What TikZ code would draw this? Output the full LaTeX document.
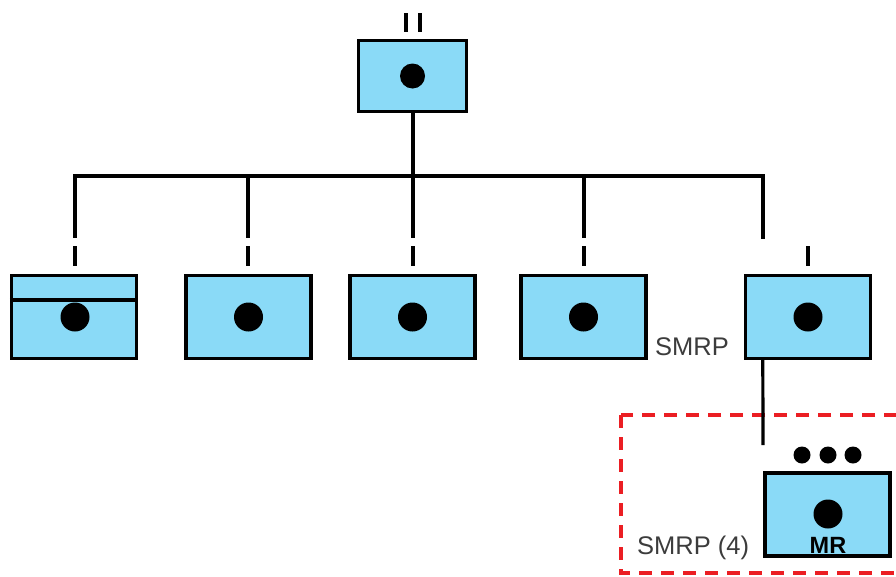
\documentclass[tikz,border=0pt]{standalone}
\usepackage{fontspec}
\setmainfont{Liberation Sans}
\usetikzlibrary{calc}
\definecolor{boxblue}{RGB}{138,218,247}
\definecolor{labelgray}{RGB}{60,60,60}
\definecolor{dashred}{RGB}{235,30,35}
\begin{document}
\begin{tikzpicture}[x=1pt,y=-1pt,
  wire/.style={line width=3.2pt,black},
  unitbox/.style={draw=black,line width=3.4pt,fill=boxblue,rectangle,
    minimum width=125pt,minimum height=83pt,inner sep=0pt},
  topbox/.style={unitbox,minimum width=108pt,minimum height=71pt},
  bigdot/.style={circle,fill=black,inner sep=0pt,minimum size=29pt},
  topdot/.style={circle,fill=black,inner sep=0pt,minimum size=25pt},
  smalldot/.style={circle,fill=black,inner sep=0pt,minimum size=17pt},
  smrplabel/.style={text=labelgray,font=\fontsize{25.5}{27}\selectfont,inner sep=0pt},
  regionbox/.style={draw=dashred,line width=3.2pt,dash pattern=on 13pt off 9pt}]
\useasboundingbox (0,0) rectangle (896,576);
\clip (0,0) rectangle (896,576);
\fill[white] (0,0) rectangle (896,576);

% top node
\node[topbox] (top) at (412.5,76) {};
\node[topdot] (topd) at (412.5,76) {};
\coordinate (tm1a) at (406,13); \coordinate (tm1b) at (406,32);
\coordinate (tm2a) at (420,13); \coordinate (tm2b) at (420,32);
\draw[wire] (tm1a) -- (tm1b);
\draw[wire] (tm2a) -- (tm2b);

% second level boxes
\node[unitbox] (b1) at (74,317) {};
\node[unitbox] (b2) at (248.5,317) {};
\node[unitbox] (b3) at (412.5,317) {};
\node[unitbox] (b4) at (583.5,317) {};
\node[unitbox] (b5) at (808,317) {};
\draw[wire] (b1.west |- 0,300) -- (b1.east |- 0,300);
\node[bigdot] (d1) at (75,317) {};
\node[bigdot] (d2) at (248.5,317) {};
\node[bigdot] (d3) at (412.5,317) {};
\node[bigdot] (d4) at (583.5,317) {};
\node[bigdot] (d5) at (808,317) {};

% bus
\coordinate (busL) at (75,176);
\coordinate (busR) at (763,176);
\coordinate (busTop) at (413,176);
\draw[wire] (top.south -| busTop) -- (busTop);
\draw[wire,line cap=rect] (busL) -- (busR) -- (763,237);

% drops with gap marks
\foreach \x/\n in {75/1,248/2,413/3,584/4}{
  \coordinate (up\n) at (\x,176);
  \coordinate (lo\n) at (\x,238);
  \coordinate (ma\n) at (\x,246);
  \coordinate (mb\n) at (\x,266);
  \draw[wire] (up\n) -- (lo\n);
  \draw[wire] (ma\n) -- (mb\n);
}
\coordinate (ma5) at (808,246);
\coordinate (mb5) at (808,266);
\draw[wire] (ma5) -- (mb5);

\node[smrplabel,anchor=base west] (smrp) at (655,355) {SMRP};

% region
\draw[regionbox] (621,415) rectangle (920,573);

% MR box
\coordinate (b5out) at ($(b5.south west)+(19,0)$);
\coordinate (b5end) at (763,445);
\draw[wire] (b5out) -- (b5end);
\node[smalldot] (e1) at (802,455) {};
\node[smalldot] (e2) at (828,455) {};
\node[smalldot] (e3) at (853,455) {};
\node[unitbox] (mr) at (827.5,514.5) {};
\node[bigdot] (mrd) at (828,514) {};
\node[anchor=base,inner sep=0pt,font=\fontsize{23.5}{25}\selectfont\bfseries] (mrt) at (828,553) {MR};
\node[smrplabel,anchor=base west] (smrp4) at (637,554) {SMRP (4)};
\end{tikzpicture}
\end{document}
